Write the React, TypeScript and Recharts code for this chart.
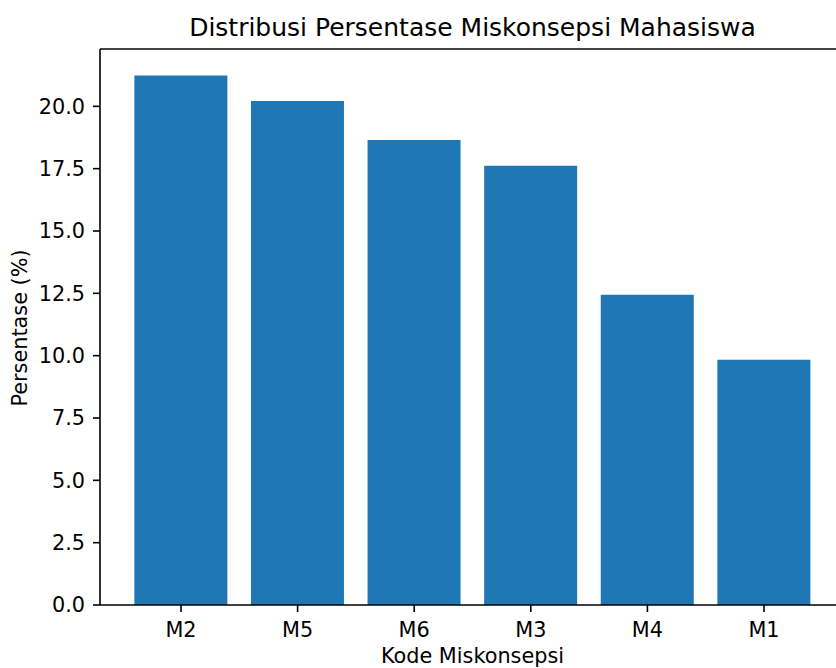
import { Bar, BarChart, ReferenceLine, XAxis, YAxis } from "recharts";

// kode miskonsepsi, sorted from highest to lowest share
const codes = ["M2", "M5", "M6", "M3", "M4", "M1"];
const percentages = [21.24, 20.21, 18.65, 17.62, 12.44, 9.84];
const yTicks = [0, 2.5, 5, 7.5, 10, 12.5, 15, 17.5, 20];
const yMax = 22.3;

const chartData = codes.map((code, i) => ({
  code,
  percent: percentages[i],
}));

const font = "'DejaVu Sans', sans-serif";
const axisStroke = { stroke: "#000", strokeWidth: 1.6 };

export default function App() {
  return (
    <div
      style={{
        position: "absolute",
        left: 0,
        top: 0,
        width: 836,
        height: 668,
        overflow: "hidden",
        background: "#fff",
      }}
    >
      <BarChart
        width={845}
        height={668}
        data={chartData}
        margin={{ top: 49, right: 0, bottom: 0, left: 0 }}
        barCategoryGap="10%"
        style={{ fontFamily: font }}
      >
        <XAxis
          dataKey="code"
          height={63}
          interval={0}
          padding={{ left: 22.7, right: 22.7 }}
          axisLine={axisStroke}
          tickLine={axisStroke}
          tickSize={7}
          tickMargin={10}
          tick={{ fill: "#000", fontSize: 20.8, fontFamily: font }}
        />
        <YAxis
          width={100}
          domain={[0, yMax]}
          ticks={yTicks}
          interval={0}
          allowDataOverflow
          axisLine={axisStroke}
          tickLine={axisStroke}
          tickSize={7}
          tickMargin={8}
          tickFormatter={(v: number) => v.toFixed(1)}
          tick={{ fill: "#000", fontSize: 20.8, fontFamily: font }}
        />
        <ReferenceLine y={yMax} stroke="#000" strokeWidth={1.6} />
        <Bar dataKey="percent" fill="#1f77b4" isAnimationActive={false} />

        <text
          x={472.5}
          y={36}
          textAnchor="middle"
          fontSize={25}
          fontFamily={font}
          fill="#000"
        >
          Distribusi Persentase Miskonsepsi Mahasiswa
        </text>
        <text
          x={472.5}
          y={663}
          textAnchor="middle"
          fontSize={20.8}
          fontFamily={font}
          fill="#000"
        >
          Kode Miskonsepsi
        </text>
        <text
          x={27}
          y={328}
          textAnchor="middle"
          transform="rotate(-90 27 328)"
          fontSize={20.8}
          fontFamily={font}
          fill="#000"
        >
          Persentase (%)
        </text>
      </BarChart>
    </div>
  );
}
